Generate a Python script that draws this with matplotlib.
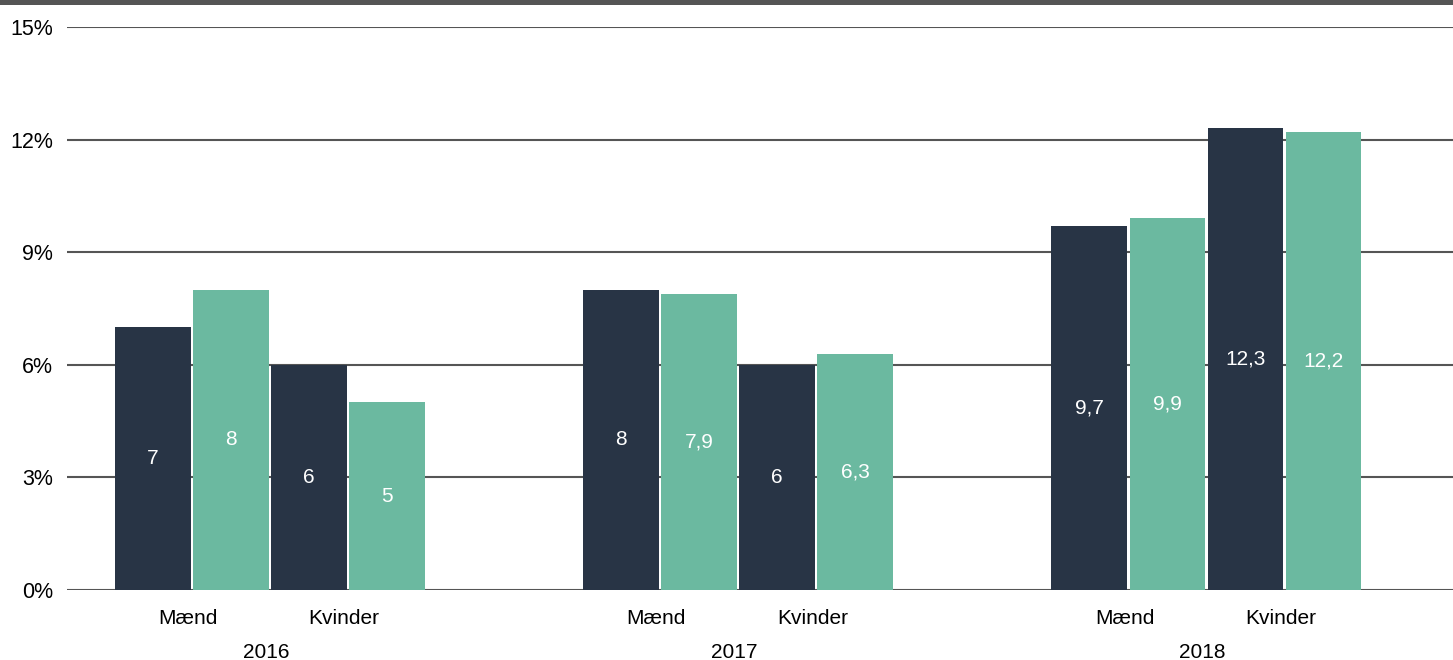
import numpy as np
import matplotlib.pyplot as plt
from matplotlib.patches import Rectangle

years = ["2016", "2017", "2018"]
genders = ["Mænd", "Kvinder"]
# per year: values for Mænd and Kvinder, dark bar and green bar
dark_vals = [[7, 6], [8, 6], [9.7, 12.3]]
green_vals = [[8, 5], [7.9, 6.3], [9.9, 12.2]]

dark = "#283445"
green = "#6bb9a0"
grid = "#555555"

plt.rcParams['font.family'] = ['Liberation Sans', 'DejaVu Sans']

fig = plt.figure(figsize=(14.53, 6.6), dpi=100)
ax = fig.add_axes([0.0461, 0.106, 0.9539, 0.853])

w = 0.97
for i, yr in enumerate(years):
    base = i * 6
    for j, g in enumerate(genders):
        xd = base + 2 * j
        xg = xd + 1
        vd = dark_vals[i][j]
        vg = green_vals[i][j]
        ax.bar(xd, vd, width=w, color=dark, zorder=3)
        ax.bar(xg, vg, width=w, color=green, zorder=3)
        for x, v in ((xd, vd), (xg, vg)):
            ax.text(x, v / 2, f"{v:g}".replace(".", ","), color="white",
                    ha="center", va="center", fontsize=15, zorder=4)
        ax.text(xd + 0.45, -0.5, g, ha="center", va="top", fontsize=15)
    ax.text(base + 1.45, -1.42, yr, ha="center", va="top", fontsize=15)

ax.set_xlim(-1.1, 16.66)
ax.set_ylim(0, 15)
ax.set_yticks([0, 3, 6, 9, 12, 15])
ax.set_yticklabels([f"{t}%" for t in [0, 3, 6, 9, 12, 15]], fontsize=15.5)
ax.set_xticks([])
ax.yaxis.grid(True, color=grid, linewidth=1.5, zorder=0)
ax.tick_params(axis="y", length=0, pad=10)
for s in ax.spines.values():
    s.set_visible(False)

fig.add_artist(Rectangle((0, 1 - 5 / 660), 1, 5 / 660, transform=fig.transFigure,
                         color="#555555", lw=0))

fig.savefig("out.png", dpi=100)
